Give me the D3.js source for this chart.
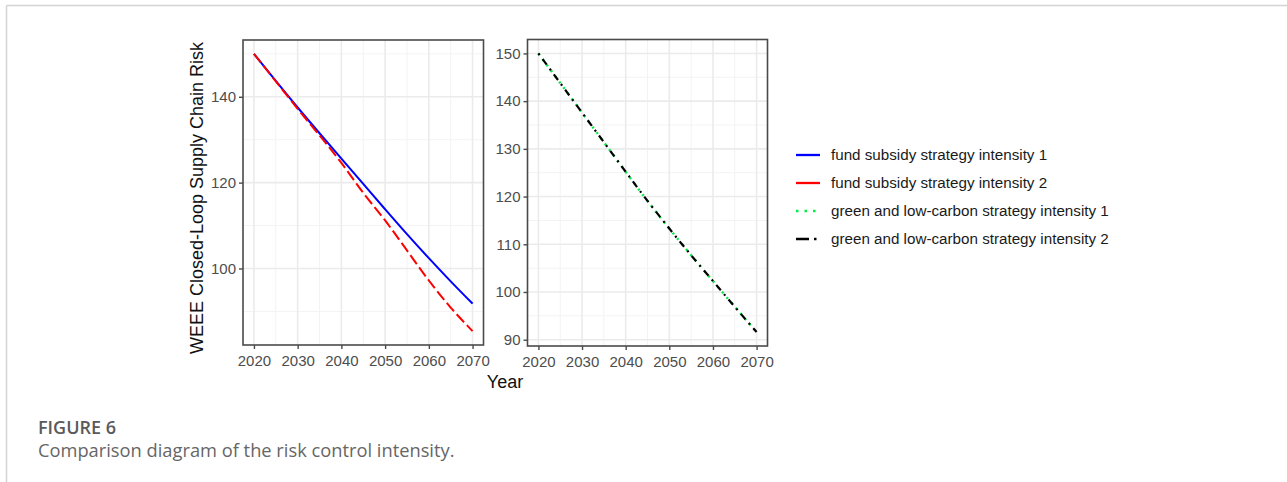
<!DOCTYPE html>
<html>
<head>
<meta charset="utf-8">
<script src="https://cdn.jsdelivr.net/npm/d3@7"></script>
<style>
  html, body { margin: 0; padding: 0; background: #fff; }
  svg { display: block; }
</style>
</head>
<body>
<svg id="chart" width="1287" height="482"></svg>
<script>
// ---- data ----
const years = [2020, 2025, 2030, 2035, 2040, 2045, 2050, 2055, 2060, 2065, 2070];
const fundIntensity1 = [150, 143.7, 137.5, 131.5, 125.6, 119.7, 113.8, 108.0, 102.4, 97.0, 91.8];
const fundIntensity2 = [150, 143.6, 137.2, 131.0, 124.6, 117.6, 111.2, 104.2, 97.2, 90.9, 85.4];
const greenIntensity1 = [150, 143.8, 137.6, 131.4, 125.2, 119.1, 113.3, 107.7, 102.3, 96.9, 91.6];
const greenIntensity2 = [150, 143.8, 137.6, 131.4, 125.2, 119.1, 113.3, 107.7, 102.3, 96.9, 91.6];
const xTicks = [2020, 2030, 2040, 2050, 2060, 2070];
const xMinor = [2025, 2035, 2045, 2055, 2065];
const leftYTicks = [100, 120, 140];
const leftYMinor = [90, 110, 130, 150];
const rightYTicks = [90, 100, 110, 120, 130, 140, 150];
const rightYMinor = [95, 105, 115, 125, 135, 145];
const legendLabels = [
  "fund subsidy strategy intensity 1",
  "fund subsidy strategy intensity 2",
  "green and low-carbon strategy intensity 1",
  "green and low-carbon strategy intensity 2"
];
const yTitle = "WEEE Closed-Loop Supply Chain Risk";
const xTitle = "Year";
const captionTitle = "FIGURE 6";
const captionText = "Comparison diagram of the risk control intensity.";

// ---- styles ----
const styles = [
  { color: "#0000ff", dash: null, width: 2 },
  { color: "#ff0000", dash: "11,4", width: 2 },
  { color: "#00ee44", dash: "2,5", width: 2.4 },
  { color: "#000000", dash: "2,5,7,5", width: 2.2 }
];

const svg = d3.select("#chart");
const chartFont = "'Liberation Sans', Arial, sans-serif";

// page frame
svg.append("line").attr("x1", 6.5).attr("x2", 1287).attr("y1", 5.5).attr("y2", 5.5)
  .attr("stroke", "#d4d4d4").attr("stroke-width", 1.5);
svg.append("line").attr("x1", 6.5).attr("x2", 6.5).attr("y1", 5.5).attr("y2", 482)
  .attr("stroke", "#d4d4d4").attr("stroke-width", 1.5);

function expand(ext, f) {
  const r = ext[1] - ext[0];
  return [ext[0] - r * f, ext[1] + r * f];
}

function panel(opts) {
  const { x0, x1, y0, y1, series, yTicks, yMinor } = opts;
  const allV = series.flatMap(s => s.values);
  const x = d3.scaleLinear().domain(expand(d3.extent(years), 0.05)).range([x0, x1]);
  const y = d3.scaleLinear().domain(expand(d3.extent(allV), 0.05)).range([y1, y0]);
  const g = svg.append("g");

  // grid
  const grid = g.append("g");
  grid.selectAll(".vmin").data(xMinor).join("line")
    .attr("x1", d => x(d)).attr("x2", d => x(d)).attr("y1", y0).attr("y2", y1)
    .attr("stroke", "#f3f3f3").attr("stroke-width", 1);
  grid.selectAll(".hmin").data(yMinor).join("line")
    .attr("y1", d => y(d)).attr("y2", d => y(d)).attr("x1", x0).attr("x2", x1)
    .attr("stroke", "#f3f3f3").attr("stroke-width", 1);
  grid.selectAll(".vmaj").data(xTicks).join("line")
    .attr("x1", d => x(d)).attr("x2", d => x(d)).attr("y1", y0).attr("y2", y1)
    .attr("stroke", "#ebebeb").attr("stroke-width", 1.6);
  grid.selectAll(".hmaj").data(yTicks).join("line")
    .attr("y1", d => y(d)).attr("y2", d => y(d)).attr("x1", x0).attr("x2", x1)
    .attr("stroke", "#ebebeb").attr("stroke-width", 1.6);

  // lines
  const line = d3.line().x((d, i) => x(years[i])).y(d => y(d)).curve(d3.curveMonotoneX);
  series.forEach(s => {
    g.append("path").datum(s.values)
      .attr("d", line)
      .attr("fill", "none")
      .attr("stroke", s.style.color)
      .attr("stroke-width", s.style.width)
      .attr("stroke-dasharray", s.style.dash)
      .attr("stroke-linecap", "butt");
  });

  // border
  g.append("rect").attr("x", x0).attr("y", y0).attr("width", x1 - x0).attr("height", y1 - y0)
    .attr("fill", "none").attr("stroke", "#4a4a4a").attr("stroke-width", 1.6);

  // axes
  const xAxis = d3.axisBottom(x).tickValues(xTicks).tickFormat(d3.format("d")).tickSize(4).tickPadding(6);
  const gx = g.append("g").attr("transform", `translate(0,${y1})`).call(xAxis);
  const yAxis = d3.axisLeft(y).tickValues(yTicks).tickFormat(d3.format("d")).tickSize(4).tickPadding(3);
  const gy = g.append("g").attr("transform", `translate(${x0},0)`).call(yAxis);
  [gx, gy].forEach(a => {
    a.select(".domain").remove();
    a.selectAll(".tick line").attr("stroke", "#4a4a4a").attr("stroke-width", 1.4);
    a.selectAll(".tick text").attr("fill", "#4d4d4d")
      .style("font-family", chartFont).style("font-size", "15px");
  });
  return { x, y };
}

panel({
  x0: 243, x1: 483.5, y0: 40, y1: 345,
  series: [
    { values: fundIntensity1, style: styles[0] },
    { values: fundIntensity2, style: styles[1] }
  ],
  yTicks: leftYTicks, yMinor: leftYMinor
});

panel({
  x0: 527.5, x1: 767.5, y0: 39.5, y1: 346,
  series: [
    { values: greenIntensity1, style: styles[2] },
    { values: greenIntensity2, style: styles[3] }
  ],
  yTicks: rightYTicks, yMinor: rightYMinor
});

// axis titles
svg.append("text")
  .attr("transform", "translate(203,198) rotate(-90)")
  .attr("text-anchor", "middle")
  .style("font-family", chartFont).style("font-size", "18px").attr("fill", "#111")
  .text(yTitle);
svg.append("text")
  .attr("x", 505).attr("y", 388)
  .attr("text-anchor", "middle")
  .style("font-family", chartFont).style("font-size", "18px").attr("fill", "#111")
  .text(xTitle);

// legend
const legendY = [155, 183, 211, 239];
const leg = svg.append("g");
legendLabels.forEach((lab, i) => {
  const st = styles[i];
  leg.append("line")
    .attr("x1", 796).attr("x2", 820).attr("y1", legendY[i]).attr("y2", legendY[i])
    .attr("stroke", st.color).attr("stroke-width", st.width + 0.3)
    .attr("stroke-dasharray", i === 2 ? "2.5,6" : (i === 3 ? "13,5,2.5,4" : null));
  leg.append("text")
    .attr("x", 831).attr("y", legendY[i] + 5)
    .style("font-family", chartFont).style("font-size", "15.2px").attr("fill", "#1a1a1a")
    .text(lab);
});

// caption
svg.append("text").attr("x", 38).attr("y", 434)
  .style("font-family", "'Open Sans', sans-serif").style("font-size", "18px")
  .style("font-weight", 600).attr("fill", "#5a5a5a")
  .text(captionTitle);
svg.append("text").attr("x", 38).attr("y", 457)
  .style("font-family", "'Open Sans', sans-serif").style("font-size", "18.3px")
  .attr("fill", "#666")
  .text(captionText);
</script>
</body>
</html>
